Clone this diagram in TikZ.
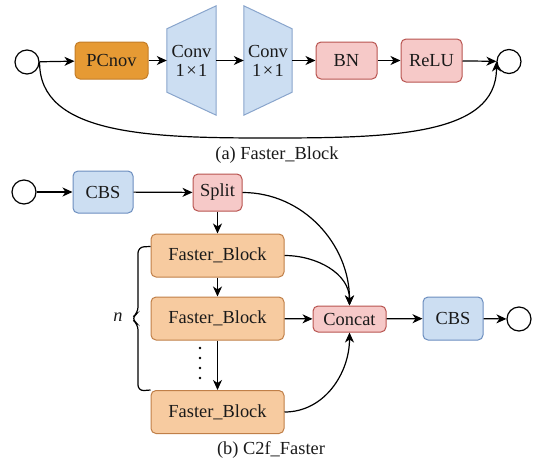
\documentclass[tikz,border=0pt]{standalone}
\usepackage{fontspec}
\setmainfont{Liberation Serif}
\usetikzlibrary{arrows.meta,calc}

\definecolor{orgfill}{HTML}{E69A34}
\definecolor{orgline}{HTML}{C27C28}
\definecolor{peachfill}{HTML}{F7CBA0}
\definecolor{peachline}{HTML}{C07F48}
\definecolor{bluefill}{HTML}{CCDEF2}
\definecolor{blueline}{HTML}{6C8EBF}
\definecolor{pinkfill}{HTML}{F6C9C8}
\definecolor{pinkline}{HTML}{B85450}
\definecolor{ink}{HTML}{1A1A1A}

\tikzset{
  every node/.style={font=\fontsize{18.4pt}{21pt}\selectfont, text=ink, inner sep=0pt},
  arr/.style={-{Stealth[length=10pt,width=9pt,inset=3pt]}, line width=1.2pt, black},
  link/.style={line width=1.2pt, black},
  port/.style={circle, draw=black, line width=1.2pt, fill=white, minimum size=24pt},
  boxbase/.style={rectangle, rounded corners=5pt, line width=1pt},
  orangebox/.style={boxbase, draw=orgline, fill=orgfill},
  peachbox/.style={boxbase, draw=peachline, fill=peachfill, minimum width=133pt, minimum height=43pt},
  bluebox/.style={boxbase, draw=blueline, fill=bluefill},
  pinkbox/.style={boxbase, draw=pinkline, fill=pinkfill},
  trapfill/.style={fill=bluefill},
  trapline/.style={draw=blueline!80, line width=1pt},
  caption/.style={text=ink}
}

\begin{document}
\begin{tikzpicture}[x=1pt,y=-1pt]
\useasboundingbox (0,0) rectangle (535,461);

% ---------- (a) Faster_Block ----------
\node[port] (ain) at (27,62) {};
\node[orangebox, minimum width=73pt, minimum height=37pt] (pconv) at (111.5,60.5) {PCnov};

% frames for the two 1x1 convolution trapezoids
\node[minimum width=49pt, minimum height=109pt] (t1) at (191.5,60.5) {};
\node[minimum width=48pt, minimum height=109pt] (t2) at (268,60.5) {};
\fill[trapfill] ([yshift=-23pt]t1.north west) -- (t1.north east) -- (t1.south east)
  -- ([yshift=23pt]t1.south west) -- cycle;
\fill[trapfill] (t2.north west) -- ([yshift=-23pt]t2.north east)
  -- ([yshift=23pt]t2.south east) -- (t2.south west) -- cycle;
\draw[trapline] ([yshift=-23pt]t1.north west) -- (t1.north east) -- (t1.south east)
  -- ([yshift=23pt]t1.south west) -- cycle;
\draw[trapline] (t2.north west) -- ([yshift=-23pt]t2.north east)
  -- ([yshift=23pt]t2.south east) -- (t2.south west) -- cycle;
\node[align=center] (t1txt) at (t1.center) {Conv\\[-2pt]1\hspace{1.5pt}×\hspace{1.5pt}1};
\node[align=center] (t2txt) at (t2.center) {Conv\\[-2pt]1\hspace{1.5pt}×\hspace{1.5pt}1};

\node[pinkbox, minimum width=61pt, minimum height=37pt] (bn) at (346.5,60.5) {BN};
\node[pinkbox, minimum width=61pt, minimum height=43pt] (relu) at (431.5,60.5) {ReLU};
\node[port] (aout) at (509,61.5) {};

\draw[arr] (ain) -- (pconv);
\draw[arr] (pconv) -- (t1.west);
\draw[arr] (t1.east) -- (t2.west);
\draw[arr] (t2.east) -- (bn);
\draw[arr] (bn) -- (relu);
\draw[arr] (relu) -- (aout);
\coordinate (amid) at (268,138);
\draw[arr] (ain.east) .. controls (39,135) and (150,138) .. (amid)
  .. controls (390,138) and (497,136) .. (aout.west);

\node[caption] (capa) at (277,155.5) {(a) Faster\_Block};

% ---------- (b) C2f_Faster ----------
\node[port] (bin) at (24,192) {};
\node[bluebox, minimum width=60pt, minimum height=42pt] (cbs1) at (103,192) {CBS};
\node[pinkbox, minimum width=49pt, minimum height=37pt] (split) at (217.5,192.5) {Split};
\node[peachbox] (fb1) at (217.5,255.5) {Faster\_Block};
\node[peachbox] (fb2) at (217.5,318.5) {Faster\_Block};
\node[peachbox] (fb3) at (217.5,412) {Faster\_Block};
\node[pinkbox, minimum width=73pt, minimum height=26pt] (concat) at (349.5,319) {Concat};
\node[bluebox, minimum width=60pt, minimum height=43pt] (cbs2) at (453,318.5) {CBS};
\node[port] (bout) at (519,319) {};

\draw[arr] (bin) -- (cbs1);
\draw[arr] (cbs1) -- (split);
\draw[arr] (split) -- (fb1);
\draw[arr] (fb1) -- (fb2);
\draw[arr] (fb2) -- (fb3);
\draw[arr] (fb2) -- (concat);
\draw[arr] (concat) -- (cbs2);
\draw[arr] (cbs2) -- (bout);
\draw[arr] (split.east) to[out=0,in=90] (concat.north);
\draw[arr] (fb1.east) to[out=0,in=90] (concat.north);
\draw[arr] (fb3.east) to[out=0,in=-90] (concat.south);

% vertical ellipsis between the repeated blocks
\foreach \yy in {348,358,368,378} \fill[black] (200,\yy) circle (1.4pt);

% brace grouping the n blocks
\coordinate (brtop) at ([yshift=-13pt]fb1.north west);
\coordinate (brbot) at (fb3.north west);
\draw[link, rounded corners=6pt] (brtop) -- (138,247) -- (138,313) -- (131,318.5)
  -- (138,324) -- (138,391) -- (brbot);
\node[font=\fontsize{18.4pt}{21pt}\selectfont\itshape] (nlabel) at (118,317) {n};

\node[caption] (capb) at (271,450) {(b) C2f\_Faster};
\end{tikzpicture}
\end{document}
